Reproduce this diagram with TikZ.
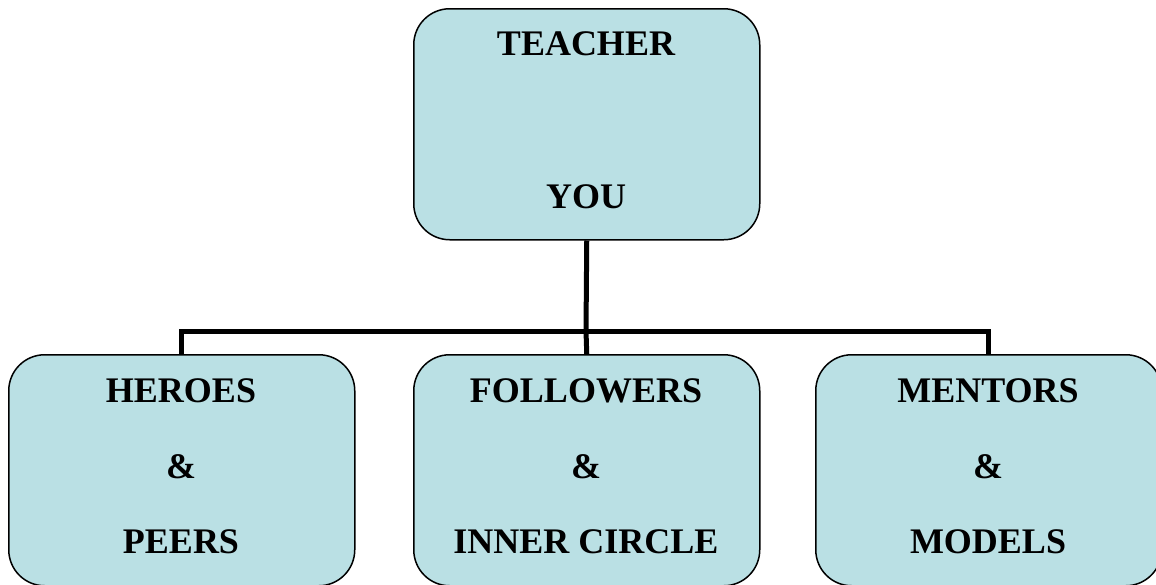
\documentclass[tikz,border=0pt]{standalone}
\usepackage{fontspec}
\setmainfont{Liberation Serif}
\definecolor{boxblue}{RGB}{186,224,228}
\begin{document}
\begin{tikzpicture}[x=1pt,y=-1pt,
  box/.style={draw=black, line width=1.5pt, fill=boxblue, rounded corners=36pt,
    minimum width=346pt, minimum height=231pt, inner sep=0pt, anchor=north west},
  lbl/.style={font=\fontsize{36}{40}\selectfont\bfseries, inner sep=0pt, anchor=base},
  conn/.style={draw=black, line width=5pt}]
\useasboundingbox (0,0) rectangle (1156,584);
\clip (0,0) rectangle (1156,584);
\node[box] (top) at (413,8) {};
\node[box] (left) at (8,354) {};
\node[box] (mid) at (413,354) {};
\node[box] (right) at (815,354) {};
\coordinate (bus) at (586,331);
\draw[conn] (top.south) -- (bus);
\draw[conn] (left.north) |- (bus);
\draw[conn] (bus) -| (right.north);
\draw[conn] (bus) -- (mid.north);
\node[lbl] (t1) at (586,55) {TEACHER};
\node[lbl] (t2) at (586,208) {YOU};
\node[lbl] (l1) at (181,402) {HEROES};
\node[lbl] (l2) at (181,478) {\&};
\node[lbl] (l3) at (181,553) {PEERS};
\node[lbl] (m1) at (586,402) {FOLLOWERS};
\node[lbl] (m2) at (586,478) {\&};
\node[lbl] (m3) at (586,553) {INNER CIRCLE};
\node[lbl] (r1) at (988,402) {MENTORS};
\node[lbl] (r2) at (988,478) {\&};
\node[lbl] (r3) at (988,553) {MODELS};
\end{tikzpicture}
\end{document}
